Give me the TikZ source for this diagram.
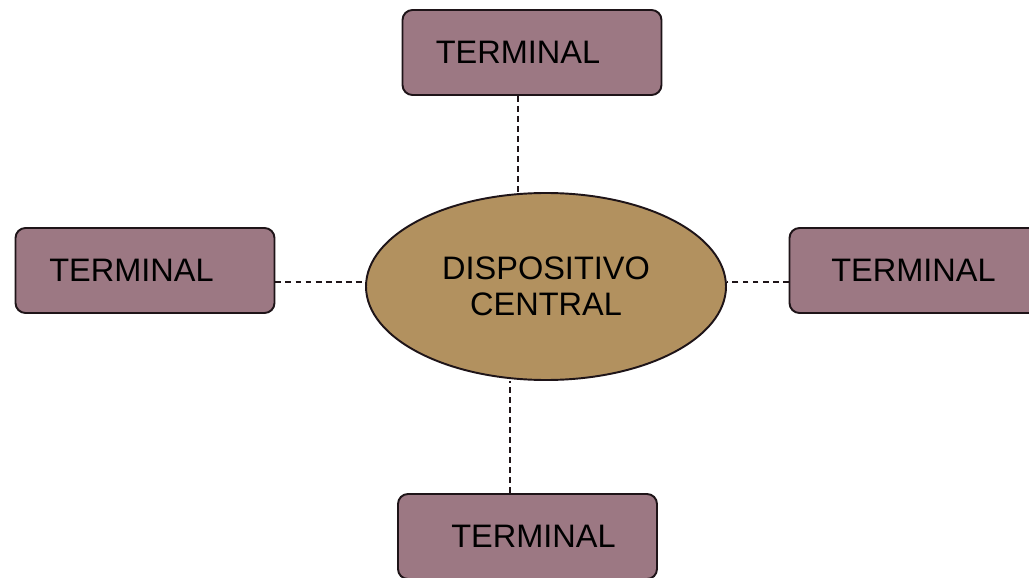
\documentclass[tikz,border=0pt]{standalone}
\usepackage{fontspec}
\setmainfont{Liberation Sans}
\usepackage{tikz}
\usetikzlibrary{shapes.geometric}
\definecolor{termfill}{HTML}{9C7883}
\definecolor{devfill}{HTML}{B2915F}
\definecolor{edge}{HTML}{1E1418}
\tikzset{
	term/.style={draw=edge, line width=1.1pt, fill=termfill, rounded corners=0.2cm,
		minimum width=5.18cm, minimum height=1.7cm, inner sep=0pt,
		font=\fontsize{18.5}{22}\selectfont, execute at begin node={\hspace*{#1}}},
	dev/.style={ellipse, draw=edge, line width=1.1pt, fill=devfill,
		minimum width=7.2cm, minimum height=3.74cm, inner sep=0pt, align=center,
		font=\fontsize{18.5}{20.5}\selectfont},
	link/.style={draw=edge, line width=0.8pt, dash pattern=on 3.4pt off 2.3pt}
}

\begin{document}
\begin{tikzpicture}
		%%%%% START %%%%%
		
		\useasboundingbox (0, 0) rectangle (20.58, 11.54);
		
		\node[dev] (dev) at (10.92, 5.81) {DISPOSITIVO\\CENTRAL};
		
		\node[term=-0.56cm] (top) at (10.64, 10.49) {TERMINAL};
		\node[term=-0.54cm] (left) at (2.90, 6.13) {TERMINAL};
		\node[term=-0.22cm] (right) at (18.38, 6.13) {TERMINAL};
		\node[term=0.24cm] (bottom) at (10.55, 0.81) {TERMINAL};
		
		\draw[link] ([xshift=-0.28cm]top.south) -- ([xshift=-0.28cm]top.south |- dev.north);
		\draw[link] ([yshift=-0.23cm]left.east) -- ([yshift=-0.23cm]left.east -| dev.west);
		\draw[link] ([yshift=-0.23cm]right.west) -- ([yshift=-0.23cm]right.west -| dev.east);
		\draw[link] ([xshift=-0.35cm]bottom.north) -- ([xshift=-0.35cm]bottom.north |- dev.south);
		
		%%%%% END %%%%%
	\end{tikzpicture}
\end{document}
